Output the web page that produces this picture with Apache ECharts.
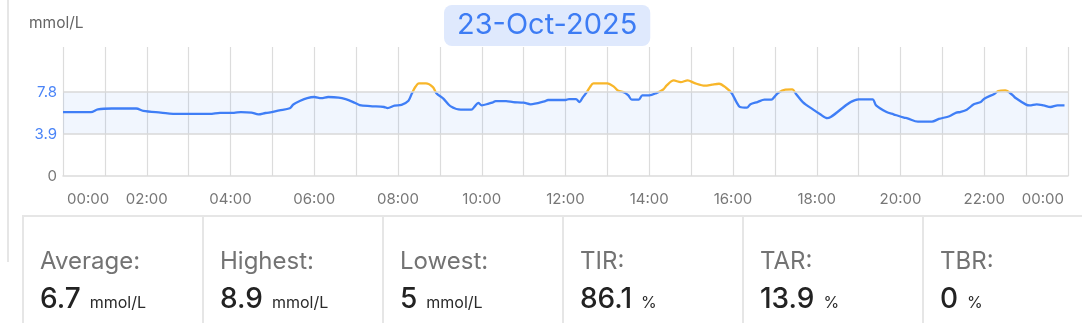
<!DOCTYPE html>
<html>
<head>
<meta charset="utf-8">
<script src="https://cdn.jsdelivr.net/npm/echarts@6/dist/echarts.min.js"></script>
<style>
  html, body { margin: 0; padding: 0; background: #fff; }
  body { width: 1082px; height: 323px; position: relative; overflow: hidden; font-family: Inter, Roboto, sans-serif; }
  #chart { position: absolute; left: 0; top: 0; width: 1082px; height: 323px; }
  #leftRule { position: absolute; left: 7px; top: 0; width: 2px; height: 262px; background: #e6e6e6; }
  #panel { position: absolute; left: 22px; top: 215px; width: 1100px; height: 120px; border-top: 2px solid #e6e6e6; display: flex; }
  .cell { flex: 0 0 auto; box-sizing: border-box; width: 180px; border-left: 2px solid #e6e6e6; position: relative; }
  .lbl { position: absolute; left: 16px; top: 32px; font-size: 24px; line-height: 24px; color: #737373; white-space: nowrap; }
  .val { position: absolute; left: 16px; top: 67px; display: flex; align-items: baseline; white-space: nowrap; }
  .num { font-size: 28px; line-height: 28px; color: #222; font-weight: 500; }
  .unit { font-size: 16px; color: #2a2a2a; margin-left: 9px; }
</style>
</head>
<body>
<div id="chart"></div>
<div id="leftRule"></div>
<div id="panel"></div>
<script>
// ---- data ----
const dateTitle = '23-Oct-2025';
const unitLabel = 'mmol/L';
const times = [
  '00:00','00:40','00:50','01:10','01:45','01:55','02:20','02:45','03:30','03:45',
  '04:05','04:15','04:30','04:40','04:50','04:55','05:10','05:25','05:30','05:40',
  '05:50','06:00','06:10','06:20','06:35','06:45','06:55','07:05','07:20','07:40',
  '07:45','07:55','08:05','08:15','08:20','08:25','08:30','08:40','08:50','08:55',
  '09:05','09:15','09:30','09:45','09:50','09:55','10:00','10:10','10:15','10:20',
  '10:35','10:45','11:00','11:10','11:30','11:35','12:00','12:05','12:15','12:20',
  '12:25','12:30','12:35','12:40','13:00','13:10','13:15','13:25','13:30','13:35',
  '13:45','13:50','14:00','14:10','14:20','14:25','14:35','14:45','14:55','15:05',
  '15:20','15:30','15:40','15:50','15:58','16:05','16:10','16:20','16:25','16:35',
  '16:45','16:55','17:00','17:05','17:15','17:25','17:30','17:40','17:55','18:05',
  '18:15','18:20','19:00','19:20','19:25','19:40','19:50','20:05','20:10','20:25',
  '20:45','20:55','21:10','21:20','21:25','21:35','21:45','21:55','22:00','22:15',
  '22:20','22:30','22:40','22:45','23:00','23:05','23:15','23:25','23:35','23:45',
  '23:55'
];
const glucose = [
  5.95,5.95,6.2,6.28,6.28,6.05,5.9,5.77,5.77,5.87,
  5.88,5.95,5.9,5.73,5.86,5.9,6.1,6.3,6.65,7.0,
  7.25,7.35,7.25,7.35,7.3,7.15,6.9,6.6,6.5,6.42,
  6.32,6.55,6.62,7.0,7.7,8.3,8.62,8.62,8.27,7.7,
  7.2,6.5,6.17,6.17,6.48,6.8,6.57,6.73,6.82,6.97,
  6.97,6.88,6.82,6.67,6.94,7.07,7.07,7.16,7.16,6.88,
  7.34,7.75,8.27,8.62,8.62,8.27,7.96,7.75,7.5,7.1,
  7.1,7.5,7.5,7.71,8.05,8.43,8.89,8.73,8.9,8.64,
  8.4,8.5,8.58,8.21,7.71,6.88,6.42,6.36,6.67,6.88,
  7.1,7.1,7.41,7.75,8.03,8.06,7.66,6.88,6.17,5.74,
  5.38,5.49,7.13,7.13,6.57,5.95,5.74,5.43,5.37,5.05,
  5.05,5.31,5.56,5.9,5.95,6.17,6.67,6.88,7.19,7.66,
  7.9,7.96,7.56,7.25,6.64,6.57,6.67,6.57,6.42,6.57,
  6.57
];
const yLabelValues = [0, 3.9, 7.8];
const targetLow = 3.9;
const targetHigh = 7.8;
const statLabels = ['Average:', 'Highest:', 'Lowest:', 'TIR:', 'TAR:', 'TBR:'];
const statValues = ['6.7', '8.9', '5', '86.1', '13.9', '0'];
const statUnits = ['mmol/L', 'mmol/L', 'mmol/L', '%', '%', '%'];

// ---- helpers ----
function toMin(t) { const p = t.split(':'); return (+p[0]) * 60 + (+p[1]); }
function fmtTime(m) {
  const h = Math.floor(m / 60) % 24;
  return (h < 10 ? '0' : '') + h + ':00';
}
const seriesData = times.map((t, i) => [toMin(t), glucose[i]]);

// ---- stats panel ----
const panel = document.getElementById('panel');
statLabels.forEach((l, i) => {
  const c = document.createElement('div');
  c.className = 'cell';
  c.innerHTML = '<div class="lbl"></div><div class="val"><span class="num"></span><span class="unit"></span></div>';
  c.querySelector('.lbl').textContent = l;
  c.querySelector('.num').textContent = statValues[i];
  c.querySelector('.unit').textContent = statUnits[i];
  panel.appendChild(c);
});

const FONT = 'Inter';
const BLUE = '#3f7ef6';
const ORANGE = '#f8b62a';
const xLabelStyle = { fontFamily: FONT, fontSize: 15, color: '#777' };

const chart = echarts.init(document.getElementById('chart'), null, { renderer: 'canvas' });
chart.setOption({
  animation: false,
  title: [
    {
      text: dateTitle, left: 444, top: 5, padding: [5, 13],
      backgroundColor: '#dfe9fd', borderRadius: 8,
      textStyle: { fontFamily: FONT, fontSize: 29, lineHeight: 31, fontWeight: 'normal', color: '#3d7cf4' }
    },
    {
      text: unitLabel, left: 29, top: 15, padding: 0,
      textStyle: { fontFamily: FONT, fontSize: 15.5, lineHeight: 17, fontWeight: 'normal', color: '#666' }
    }
  ],
  grid: { left: 63, right: 14, top: 47, bottom: 147, containLabel: false },
  xAxis: {
    type: 'value', min: 0, max: 1440, interval: 60,
    axisLine: { show: true, lineStyle: { color: '#dcdcdc', width: 1.5 } },
    axisTick: { show: false },
    splitLine: { show: true, lineStyle: { color: '#dcdcdc', width: 1.2 } },
    axisLabel: {
      fontFamily: FONT, fontSize: 15, color: '#777', margin: 16,
      showMinLabel: true, showMaxLabel: true, hideOverlap: false,
      alignMinLabel: 'left', alignMaxLabel: 'right',
      formatter: function (v) {
        if (v % 120 !== 0) return '';
        if (v === 0) return '{first|' + fmtTime(v) + '}';
        if (v === 1440) return '{last|' + fmtTime(v) + '}';
        return fmtTime(v);
      },
      rich: {
        first: Object.assign({ padding: [0, 0, 0, 4] }, xLabelStyle),
        last: Object.assign({ padding: [0, 4, 0, 0] }, xLabelStyle)
      }
    }
  },
  yAxis: {
    type: 'value', min: 0, max: 12, interval: 3.9,
    axisLine: { show: false },
    axisTick: { show: false },
    splitLine: { show: false },
    axisLabel: {
      fontFamily: FONT, fontSize: 15, margin: 6,
      formatter: function (v) {
        const hit = yLabelValues.find(x => Math.abs(x - v) < 0.01);
        if (hit === undefined) return '';
        return hit === 0 ? '0' : hit.toFixed(1);
      },
      color: function (v) { return (typeof v === 'number' ? v : parseFloat(v)) > 0.01 ? '#4a84f7' : '#777'; }
    }
  },
  visualMap: {
    type: 'piecewise', show: false, dimension: 1, seriesIndex: 0,
    pieces: [
      { gte: 0, lte: targetHigh, color: BLUE },
      { gt: targetHigh, lte: 30, color: ORANGE }
    ],
    outOfRange: { color: BLUE }
  },
  series: [{
    type: 'line',
    data: seriesData,
    showSymbol: false,
    smooth: 0.3,
    lineStyle: { width: 2.3 },
    markArea: {
      silent: true,
      itemStyle: { color: 'rgba(63,126,246,0.07)' },
      data: [[{ yAxis: targetLow }, { yAxis: targetHigh }]]
    },
    markLine: {
      silent: true, symbol: 'none',
      label: { show: false },
      lineStyle: { color: '#d9d9d9', type: 'solid', width: 1.5 },
      data: [{ yAxis: targetLow }, { yAxis: targetHigh }]
    }
  }]
});
</script>
</body>
</html>
